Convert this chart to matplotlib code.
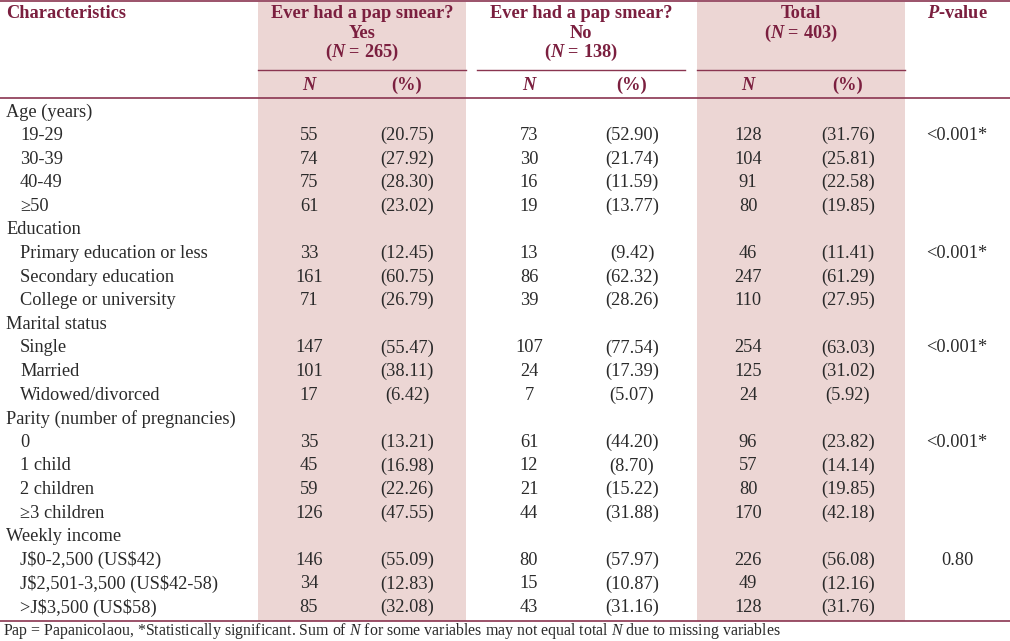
import matplotlib
matplotlib.use("Agg")
from matplotlib import pyplot as plt

plt.rcParams['font.family'] = ['Liberation Serif', 'DejaVu Serif']
plt.rcParams['mathtext.fontset'] = 'custom'
plt.rcParams['mathtext.it'] = 'Liberation Serif:bold:italic'
plt.rcParams['mathtext.sf'] = 'Liberation Serif:italic'
plt.rcParams['mathtext.rm'] = 'Liberation Serif'

labels = ["Age (years)", "19-29", "30-39", "40-49", "\u226550",
          "Education", "Primary education or less", "Secondary education", "College or university",
          "Marital status", "Single", "Married", "Widowed/divorced",
          "Parity (number of pregnancies)", "0", "1 child", "2 children", "\u22653 children",
          "Weekly income", "J$0-2,500 (US$42)", "J$2,501-3,500 (US$42-58)", ">J$3,500 (US$58)"]
is_group = [True, False, False, False, False,
            True, False, False, False,
            True, False, False, False,
            True, False, False, False, False,
            True, False, False, False]
yes_n = [None, 55, 74, 75, 61, None, 33, 161, 71, None, 147, 101, 17,
         None, 35, 45, 59, 126, None, 146, 34, 85]
yes_pct = [None, "20.75", "27.92", "28.30", "23.02", None, "12.45", "60.75", "26.79",
           None, "55.47", "38.11", "6.42", None, "13.21", "16.98", "22.26", "47.55",
           None, "55.09", "12.83", "32.08"]
no_n = [None, 73, 30, 16, 19, None, 13, 86, 39, None, 107, 24, 7,
        None, 61, 12, 21, 44, None, 80, 15, 43]
no_pct = [None, "52.90", "21.74", "11.59", "13.77", None, "9.42", "62.32", "28.26",
          None, "77.54", "17.39", "5.07", None, "44.20", "8.70", "15.22", "31.88",
          None, "57.97", "10.87", "31.16"]
tot_n = [None, 128, 104, 91, 80, None, 46, 247, 110, None, 254, 125, 24,
         None, 96, 57, 80, 170, None, 226, 49, 128]
tot_pct = [None, "31.76", "25.81", "22.58", "19.85", None, "11.41", "61.29", "27.95",
           None, "63.03", "31.02", "5.92", None, "23.82", "14.14", "19.85", "42.18",
           None, "56.08", "12.16", "31.76"]
p_values = [None, "<0.001*", None, None, None, None, "<0.001*", None, None,
            None, "<0.001*", None, None, None, "<0.001*", None, None, None,
            None, "0.80", None, None]

W, H = 1010, 641
fig = plt.figure(figsize=(W / 100, H / 100), dpi=100)
ax = fig.add_axes([0, 0, 1, 1])
ax.set_xlim(0, W)
ax.set_ylim(H, 0)
ax.axis("off")

shade = "#ecd6d4"
hdr = "#7b1f3f"
line = "#8a3550"
body = "#2a2a2a"
fs = 13.2

# shaded column groups
for x0, x1 in [(258, 466), (697, 905)]:
    ax.axvspan(x0, x1, ymin=1 - 621 / H, ymax=1 - 2 / H, color=shade, lw=0, zorder=0)

# rules
ax.plot([0, W], [1, 1], color=line, lw=1.2)
ax.plot([0, W], [98, 98], color=line, lw=1.2)
ax.plot([0, W], [621, 621], color=line, lw=1.2)
for x0, x1 in [(258, 466), (477, 685), (697, 905)]:
    ax.plot([x0, x1], [70, 70], color=line, lw=1.0)

# header
hk = dict(color=hdr, fontsize=fs, fontweight="bold", va="center")
ax.text(6, 14, "Characteristics", ha="left", **hk)
for cx, sub, n in [(362, "Yes", 265), (581, "No", 138)]:
    ax.text(cx, 14, "Ever had a pap smear?", ha="center", **hk)
    ax.text(cx, 33, sub, ha="center", **hk)
    ax.text(cx, 52, "($\\mathit{N}$ = %d)" % n, ha="center", **hk)
ax.text(801, 14, "Total", ha="center", **hk)
ax.text(801, 33, "($\\mathit{N}$ = 403)", ha="center", **hk)
ax.text(957, 14, "$\\mathit{P}$-value", ha="center", **hk)

cols = [309, 407, 529, 632, 748, 848]
for i, cx in enumerate(cols):
    if i % 2 == 0:
        ax.text(cx, 85, "N", ha="center", fontstyle="italic", **hk)
    else:
        ax.text(cx, 85, "(%)", ha="center", **hk)

# body rows
y0, step = 112, 23.6
bk = dict(color=body, fontsize=fs, va="center", parse_math=False)
for i, lab in enumerate(labels):
    y = y0 + i * step
    ax.text(6 if is_group[i] else 20, y, lab, ha="left", **bk)
    if is_group[i]:
        continue
    vals = [yes_n[i], "(%s)" % yes_pct[i], no_n[i], "(%s)" % no_pct[i],
            tot_n[i], "(%s)" % tot_pct[i]]
    for cx, v in zip(cols, vals):
        ax.text(cx, y, str(v), ha="center", **bk)
    if p_values[i]:
        ax.text(957, y, p_values[i], ha="center", **bk)

ax.text(3, 631, "Pap = Papanicolaou, *Statistically significant. Sum of $\\mathsf{N}$ for some variables "
        "may not equal total $\\mathsf{N}$ due to missing variables",
        ha="left", va="center", color=body, fontsize=11.4)

fig.savefig("out.png", dpi=100)
